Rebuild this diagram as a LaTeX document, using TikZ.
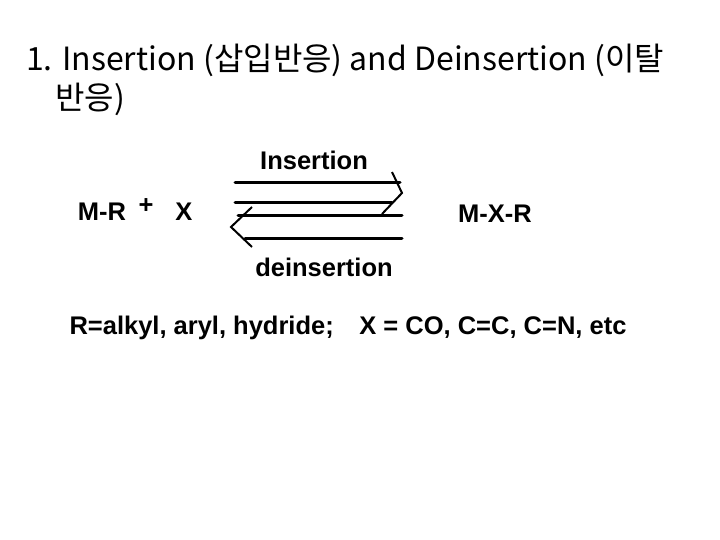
\documentclass[tikz,border=0pt]{standalone}
\usepackage{fontspec}
\setmainfont{Liberation Sans}
\newfontfamily\kr{Noto Sans CJK KR}
\begin{document}
\begin{tikzpicture}[x=1pt,y=-1pt,
  lbl/.style={font=\bfseries\fontsize{25.5}{30}\selectfont,inner sep=0pt},
  ttl/.style={font=\kr\fontsize{32}{36}\selectfont,inner sep=0pt,anchor=west},
  arr/.style={line width=3pt,line cap=round}]
\useasboundingbox (0,0) rectangle (720,540);
\node[ttl] (t1) at (26,60) {1. Insertion (삽입반응) and Deinsertion (이탈};
\node[ttl] (t2) at (55,99) {반응)};
\node[lbl] (ins) at (314,160) {Insertion};
\node[lbl] (mr) at (102,212) {M-R};
\node[lbl] (plus) at (146,206) {+};
\node[lbl] (x) at (184,212) {X};
\node[lbl] (mxr) at (495,214) {M-X-R};
\node[lbl] (de) at (324,267) {deinsertion};
\node[lbl] (rr) at (348,328) {R=alkyl, aryl, hydride;\quad X = CO, C=C, C=N, etc};
\coordinate (a1) at (235,183); \coordinate (b1) at (400,183);
\coordinate (a2) at (235,203); \coordinate (b2) at (392,203);
\coordinate (a3) at (238,216); \coordinate (b3) at (402,216);
\coordinate (a4) at (245,238); \coordinate (b4) at (402,238);
\draw[arr] (a1) -- (b1);
\draw[arr] (a2) -- (b2);
\draw[arr] (a3) -- (b3);
\draw[arr] (a4) -- (b4);
\coordinate (r1) at (392,172); \coordinate (rt) at (402,193); \coordinate (r2) at (382,214);
\draw[line width=2pt] (r1) -- (rt) -- (r2);
\coordinate (l1) at (252,207); \coordinate (lt) at (231,227); \coordinate (l2) at (252,247);
\draw[line width=2pt] (l1) -- (lt) -- (l2);
\end{tikzpicture}
\end{document}
